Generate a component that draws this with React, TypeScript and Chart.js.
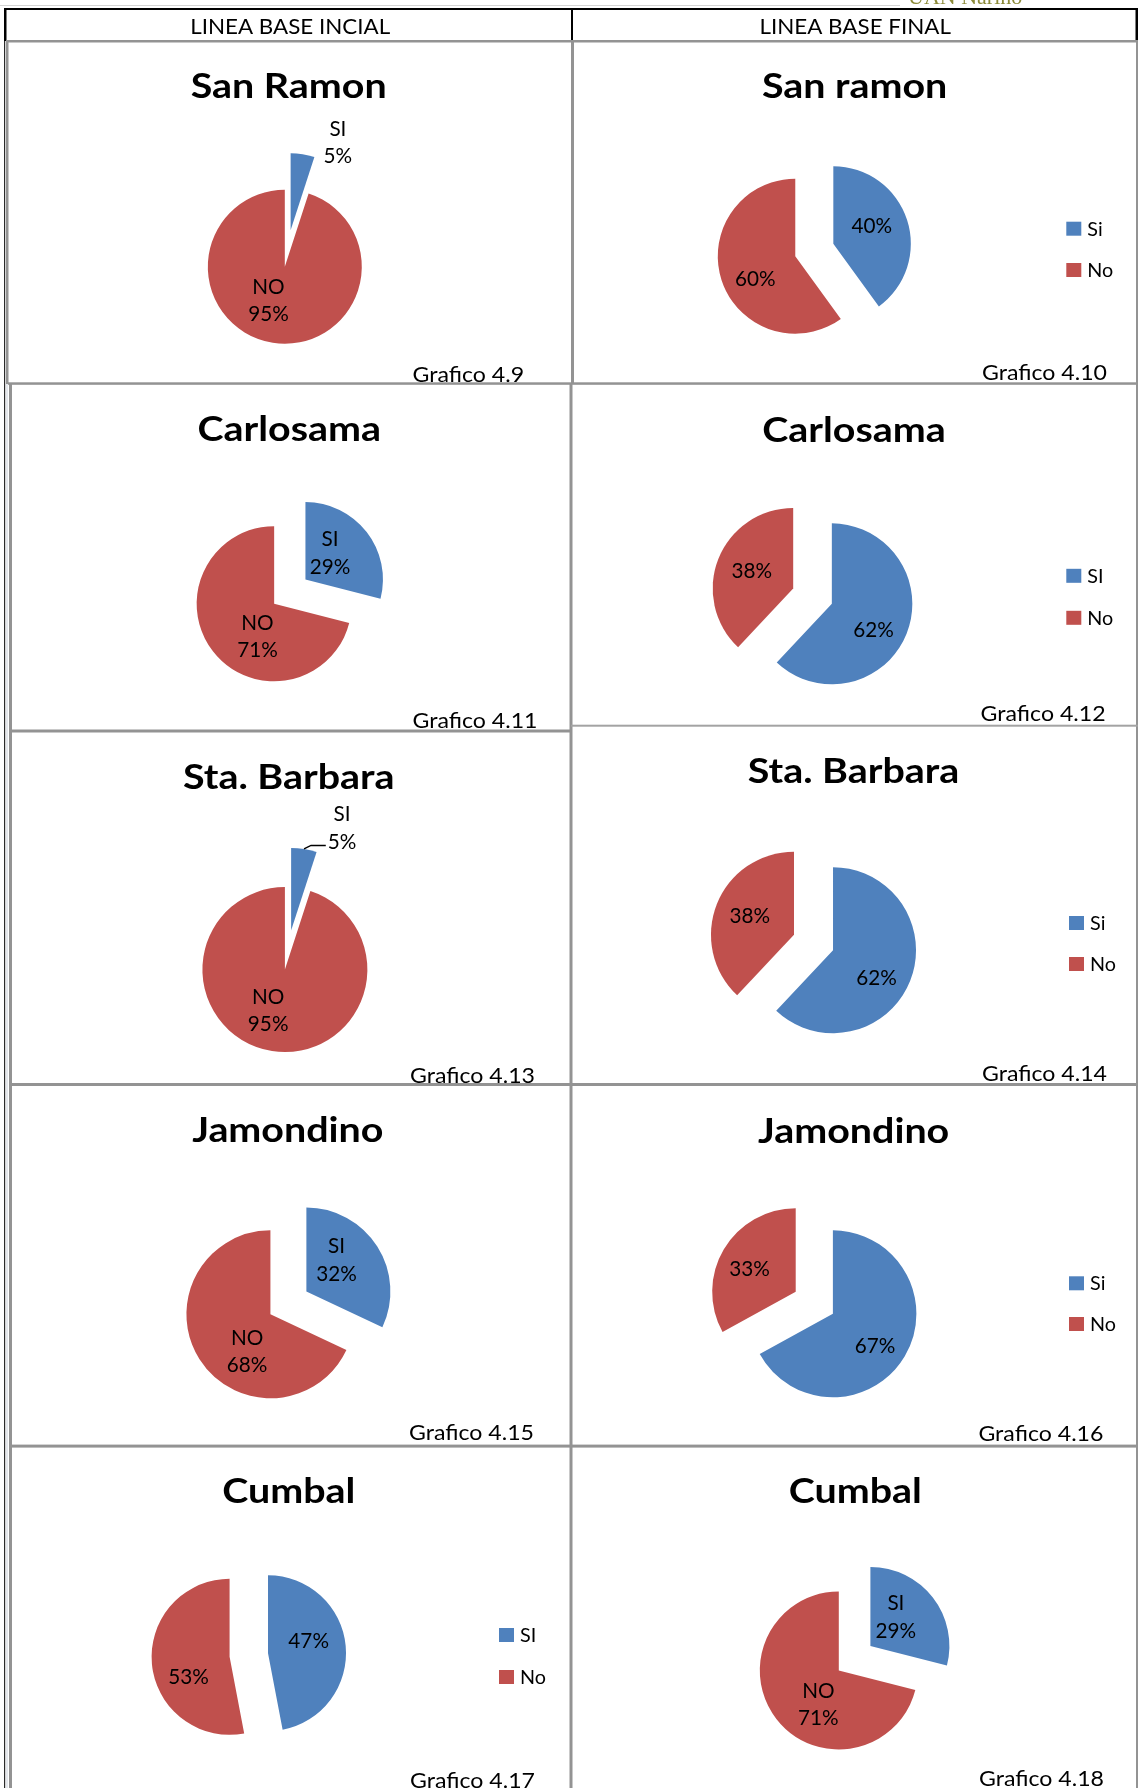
import React, { useEffect, useRef } from 'react';
import { Chart, registerables } from 'chart.js';

Chart.register(...registerables);

// ---------------- data ----------------
const headerLabels = ['LINEA BASE INCIAL', 'LINEA BASE FINAL'];
const pageMark = 'UAN Nariño';

const titles = [
  'San Ramon', 'San ramon',
  'Carlosama', 'Carlosama',
  'Sta. Barbara', 'Sta. Barbara',
  'Jamondino', 'Jamondino',
  'Cumbal', 'Cumbal',
];

const captions = [
  'Grafico 4.9', 'Grafico 4.10',
  'Grafico 4.11', 'Grafico 4.12',
  'Grafico 4.13', 'Grafico 4.14',
  'Grafico 4.15', 'Grafico 4.16',
  'Grafico 4.17', 'Grafico 4.18',
];

const categories = [
  ['SI', 'NO'], ['Si', 'No'],
  ['SI', 'NO'], ['SI', 'No'],
  ['SI', 'NO'], ['Si', 'No'],
  ['SI', 'NO'], ['Si', 'No'],
  ['SI', 'No'], ['SI', 'NO'],
];

const siValues = [5, 40, 29, 62, 5, 62, 32, 67, 47, 29];
const noValues = [95, 60, 71, 38, 95, 38, 68, 33, 53, 71];

const nameInLabel = [true, false, true, false, true, false, true, false, false, true];
const hasLegend = [false, true, false, true, false, true, false, true, true, false];

// ---------------- style / layout ----------------
const SLICE_COLORS = ['#4F81BD', '#C0504D'];
const FONT = 'Lato, "Open Sans", sans-serif';
const CAP = 0.7165;
const LINE_GAP = 27.5;

type TextStyle = { font: string; size: number; ref: string; refWidth: number; sx?: number };

const TITLE: TextStyle = { font: `bold 35px ${FONT}`, size: 35, ref: 'San Ramon', refWidth: 196 };
const LABEL: TextStyle = { font: `20.5px ${FONT}`, size: 20.5, ref: '95%', refWidth: 40.6 };
const CAPTION: TextStyle = { font: `21px ${FONT}`, size: 21, ref: 'Grafico 4.12', refWidth: 125 };
const LEGEND: TextStyle = { font: `20px ${FONT}`, size: 20, ref: 'No', refWidth: 26 };
const HEADER: TextStyle = { font: `22px ${FONT}`, size: 22, ref: 'LINEA BASE INCIAL', refWidth: 200 };

let measureCtx: CanvasRenderingContext2D | null = null;
function rawWidth(st: TextStyle, text: string) {
  if (!measureCtx) measureCtx = document.createElement('canvas').getContext('2d');
  measureCtx!.font = st.font;
  return measureCtx!.measureText(text).width;
}
function scaleOf(st: TextStyle) {
  if (st.sx === undefined) {
    const w = rawWidth(st, st.ref);
    st.sx = w > 0 ? st.refWidth / w : 1;
  }
  return st.sx;
}
function textWidth(st: TextStyle, text: string) {
  return rawWidth(st, text) * scaleOf(st);
}
function drawText(ctx: CanvasRenderingContext2D, st: TextStyle, text: string, x: number, baseline: number,
  align: CanvasTextAlign, color = '#000') {
  ctx.save();
  ctx.font = st.font;
  ctx.fillStyle = color;
  ctx.textAlign = align;
  ctx.textBaseline = 'alphabetic';
  ctx.translate(x, baseline);
  ctx.scale(scaleOf(st), 1);
  ctx.fillText(text, 0, 0);
  ctx.restore();
}

type Layout = {
  cell: [number, number, number, number]; // x, y, w, h (page coords)
  c: [number, number];                    // pie centre (page coords)
  r: number;                              // radius
  d: number;                              // explosion distance
  tX: number; tY: number;                 // title centre x / baseline
  cap: [number, number];                  // caption left / baseline
  legend?: [number, number, number];      // key left, first key centre y, spacing
  place: [number, number][];              // label [radius factor, angle shift deg]
  leader?: boolean[];
};

const LAYOUT: Layout[] = [
  { cell: [6, 41, 566, 343], c: [287.7, 248.5], r: 77, d: 18.5, tX: 288.7, tY: 98.3, cap: [412.5, 382],
    place: [[1.30, 19.2], [0.48, 17.2]] },
  { cell: [571, 41, 567, 343], c: [814.3, 250], r: 77.5, d: 20, tX: 854.6, tY: 98.3, cap: [982, 379.5],
    legend: [1066.3, 228.7, 41.3], place: [[0.55, -7.2], [0.59, -11]] },
  { cell: [9, 384, 562, 347], c: [289.8, 591.7], r: 77.5, d: 19.8, tX: 289.2, tY: 441, cap: [412.5, 728],
    place: [[0.47, -9.7], [0.47, -25]] },
  { cell: [571, 384, 567, 342], c: [812.5, 596.2], r: 80.5, d: 20.8, tX: 854, tY: 441.5, cap: [980.6, 721.3],
    legend: [1066.3, 575.8, 42], place: [[0.61, 10], [0.56, 2]] },
  { cell: [9, 731, 562, 353], c: [288, 950], r: 82.5, d: 19.8, tX: 288.7, tY: 789.3, cap: [410, 1083],
    place: [[1.39, 17.4], [0.53, 13.5]], leader: [true, false] },
  { cell: [571, 726, 567, 358], c: [813.5, 942.5], r: 83, d: 21, tX: 853.5, tY: 782.7, cap: [982, 1081.2],
    legend: [1069, 923, 41], place: [[0.62, 10.9], [0.58, 1.9]] },
  { cell: [9, 1084, 562, 362], c: [288.4, 1302.9], r: 84, d: 21.3, tX: 287.8, tY: 1141.7, cap: [409, 1439.5],
    place: [[0.52, -14], [0.52, -25.4]] },
  { cell: [571, 1084, 567, 362], c: [814.3, 1302.8], r: 83.5, d: 21.6, tX: 853.6, tY: 1142.5, cap: [978.4, 1441.2],
    legend: [1069, 1283.3, 40.7], place: [[0.63, 6.1], [0.62, -3.5]] },
  { cell: [9, 1446, 562, 342], c: [248.8, 1655], r: 78, d: 19.3, tX: 288.7, tY: 1502.7, cap: [410, 1787.8],
    legend: [499, 1635, 42], place: [[0.545, -11.6], [0.586, -20.6]] },
  { cell: [571, 1446, 567, 342], c: [854.6, 1658.2], r: 79, d: 20, tX: 855.2, tY: 1502.7, cap: [979, 1786.2],
    place: [[0.49, -11], [0.5, -21]] },
];

// table rules: x, y, w, h, colour (page coords)
const BLACK = '#000000';
const GRID = '#939393';
const RULES: [number, number, number, number, string][] = [
  [0, 5, 900, 1, '#d4d4d4'],
  [4, 8, 1134, 2, BLACK],
  [4, 8, 2.5, 33, BLACK],
  [571, 8, 2, 33, BLACK],
  [1135.5, 8, 2.5, 33, BLACK],
  [4, 41, 1.2, 1747, '#2a2a2a'],
  [6.5, 384, 1, 1404, '#c9d0da'],
  [6, 40, 1132, 2.5, GRID],
  [6, 41, 2.5, 343, GRID],
  [571, 41, 3, 343, GRID],
  [1136, 41, 2, 1747, GRID],
  [8, 382.3, 1130, 2.5, GRID],
  [9, 384, 3, 1404, GRID],
  [569.5, 384, 3, 1404, GRID],
  [9, 729.5, 563, 3, GRID],
  [571, 724.7, 567, 2, '#a3a3a3'],
  [9, 1083, 1129, 3, GRID],
  [9, 1444.6, 1129, 3, GRID],
];

// ---------------- chart plugin ----------------
function makePiePlugin(idx: number) {
  const L = LAYOUT[idx];
  const [ox, oy] = L.cell;
  return {
    id: 'excelPie' + idx,
    beforeDatasetDraw(chart: any, args: any) {
      const ctx = chart.ctx;
      for (const arc of args.meta.data) {
        const mid = (arc.startAngle + arc.endAngle) / 2;
        ctx.save();
        ctx.translate(Math.cos(mid) * L.d, Math.sin(mid) * L.d);
        arc.draw(ctx, chart.chartArea);
        ctx.restore();
      }
      return false;
    },
    afterDraw(chart: any) {
      const ctx: CanvasRenderingContext2D = chart.ctx;
      const meta = chart.getDatasetMeta(0);
      const values = chart.data.datasets[0].data;
      const names = chart.data.labels;
      const colors = chart.data.datasets[0].backgroundColor;

      drawText(ctx, TITLE, titles[idx], L.tX - ox, L.tY - oy, 'center');

      const capL = LABEL.size * CAP;
      meta.data.forEach((arc: any, i: number) => {
        const mid = (arc.startAngle + arc.endAngle) / 2;
        const [k, shift] = L.place[i];
        const r = arc.outerRadius;
        const ang = mid + (shift * Math.PI) / 180;
        const lx = arc.x + Math.cos(mid) * L.d + Math.cos(ang) * k * r;
        const ly = arc.y + Math.sin(mid) * L.d + Math.sin(ang) * k * r;
        const half = nameInLabel[idx] ? LINE_GAP / 2 : 0;
        const pct = `${values[i]}%`;
        if (nameInLabel[idx]) drawText(ctx, LABEL, String(names[i]), lx, ly - half + capL / 2, 'center');
        drawText(ctx, LABEL, pct, lx, ly + half + capL / 2, 'center');
        if (L.leader && L.leader[i]) {
          const sx0 = arc.x + Math.cos(mid) * (L.d + r);
          const sy0 = arc.y + Math.sin(mid) * (L.d + r);
          const ex = lx - textWidth(LABEL, pct) / 2 - 2;
          const ey = ly + half + 4;
          ctx.save();
          ctx.beginPath();
          ctx.moveTo(sx0, sy0);
          ctx.lineTo(sx0 + 7, ey);
          ctx.lineTo(ex, ey);
          ctx.strokeStyle = '#000';
          ctx.lineWidth = 1.4;
          ctx.stroke();
          ctx.restore();
        }
      });

      if (hasLegend[idx] && L.legend) {
        const [kx, ky, gap] = L.legend;
        names.forEach((n: string, i: number) => {
          const cy = ky + i * gap - oy;
          ctx.fillStyle = colors[i];
          ctx.fillRect(kx - ox, cy - 7, 15, 14);
          drawText(ctx, LEGEND, n, kx - ox + 21, cy + (LEGEND.size * CAP) / 2, 'left');
        });
      }

      drawText(ctx, CAPTION, captions[idx], L.cap[0] - ox, L.cap[1] - oy, 'left');
    },
  };
}

function PieCell({ idx }: { idx: number }) {
  const ref = useRef<HTMLCanvasElement>(null);
  const L = LAYOUT[idx];
  const [x, y, w, h] = L.cell;
  useEffect(() => {
    if (!ref.current) return;
    const cx = L.c[0] - x;
    const cy = L.c[1] - y;
    const R0 = L.r + L.d + 4;
    const chart = new Chart(ref.current, {
      type: 'pie',
      data: {
        labels: categories[idx],
        datasets: [{
          data: [siValues[idx], noValues[idx]],
          backgroundColor: SLICE_COLORS,
          borderWidth: 0,
          radius: L.r,
        } as any],
      },
      options: {
        responsive: false,
        animation: false,
        devicePixelRatio: 1,
        events: [],
        layout: { padding: { left: cx - R0, right: w - cx - R0, top: cy - R0, bottom: h - cy - R0 } },
        plugins: { legend: { display: false }, tooltip: { enabled: false }, title: { display: false } },
      } as any,
      plugins: [makePiePlugin(idx) as any],
    });
    return () => chart.destroy();
  }, [idx]);
  return (
    <canvas ref={ref} width={w} height={h}
      style={{ position: 'absolute', left: x, top: y, width: w, height: h }} />
  );
}

function Overlay() {
  const ref = useRef<HTMLCanvasElement>(null);
  useEffect(() => {
    const cv = ref.current;
    if (!cv) return;
    const ctx = cv.getContext('2d')!;
    ctx.clearRect(0, 0, cv.width, cv.height);
    for (const [x, y, w, h, c] of RULES) {
      ctx.fillStyle = c;
      ctx.fillRect(x, y, w, h);
    }
    drawText(ctx, HEADER, headerLabels[0], 290.2, 34.3, 'center');
    drawText(ctx, HEADER, headerLabels[1], 855.2, 34.3, 'center');
    ctx.save();
    ctx.font = '22px "Liberation Serif", "DejaVu Serif", serif';
    ctx.fillStyle = '#8d8b3a';
    ctx.textAlign = 'left';
    ctx.textBaseline = 'alphabetic';
    ctx.fillText(pageMark, 908, 3.5);
    ctx.restore();
  }, []);
  return (
    <canvas ref={ref} width={1139} height={1788}
      style={{ position: 'absolute', left: 0, top: 0, width: 1139, height: 1788, pointerEvents: 'none' }} />
  );
}

export default function App() {
  return (
    <div style={{ position: 'absolute', left: 0, top: 0, width: 1139, height: 1788, overflow: 'hidden', background: '#fff' }}>
      {LAYOUT.map((_, i) => <PieCell key={i} idx={i} />)}
      <Overlay />
    </div>
  );
}
